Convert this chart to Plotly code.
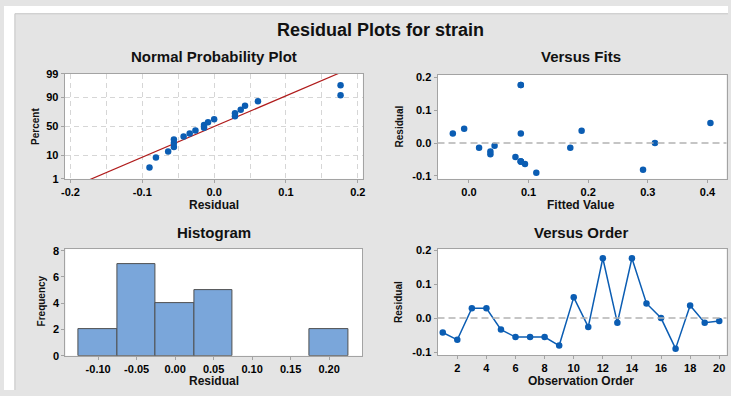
import plotly.graph_objects as go
from statistics import NormalDist, mean, stdev

# ---------------- data ----------------
observation = list(range(1, 21))
fitted = [0.078, 0.094, -0.027, 0.087, 0.036, 0.087, 0.087, 0.087, 0.292, 0.405,
          0.036, 0.087, 0.017, 0.087, -0.008, 0.312, 0.113, 0.189, 0.170, 0.043]
residual = [-0.0425, -0.064, 0.029, 0.029, -0.034, -0.056, -0.056, -0.056, -0.081, 0.061,
            -0.026, 0.176, -0.014, 0.176, 0.043, 0.000, -0.090, 0.037, -0.014, -0.0085]

pct_ticks = [1, 10, 50, 90, 99]
npp_x_ticks = [-0.2, -0.1, 0.0, 0.1, 0.2]
npp_x_text = ["-0.2", "-0.1", "0.0", "0.1", "0.2"]
res_ticks = [-0.1, 0.0, 0.1, 0.2]
res_text = ["-0.1", "0.0", "0.1", "0.2"]
fit_ticks = [0.0, 0.1, 0.2, 0.3, 0.4]
fit_text = ["0.0", "0.1", "0.2", "0.3", "0.4"]
hist_ticks = [-0.10, -0.05, 0.00, 0.05, 0.10, 0.15, 0.20]
hist_text = ["-0.10", "-0.05", "0.00", "0.05", "0.10", "0.15", "0.20"]
freq_ticks = [0, 2, 4, 6, 8]
order_ticks = list(range(2, 21, 2))

# ---------------- derived ----------------
nd = NormalDist()
n = len(residual)
sorted_res = sorted(residual)
z_pts = [nd.inv_cdf((i + 1 - 0.3) / (n + 0.4)) for i in range(n)]
z_ticks = [nd.inv_cdf(p / 100) for p in pct_ticks]
mu, sd = mean(residual), stdev(residual)
z_line = [-2.6, 2.6]
x_line = [mu + sd * z for z in z_line]

W, H = 731, 396
FONT = "Liberation Sans, Arial, sans-serif"
BLUE = "#0b5db3"
AX = "#a3a3a3"
PANEL = "#e4e4e4"
MSIZE = 6.5


def dx(a, b):
    return [a / W, b / W]


def dy(top, bottom):
    return [1 - bottom / H, 1 - top / H]


def axis(**kw):
    base = dict(showline=True, linecolor=AX, linewidth=1, mirror=True,
                ticks="outside", ticklen=3, tickcolor=AX, zeroline=False,
                showgrid=False, tickmode="array",
                tickfont=dict(family=FONT, size=11, color="black", weight="bold"))
    base.update(kw)
    return base


fig = go.Figure()

# Normal probability plot
fig.add_trace(go.Scatter(x=x_line, y=z_line, mode="lines",
                         line=dict(color="#b01c1c", width=1.2),
                         xaxis="x", yaxis="y", hoverinfo="skip"))
fig.add_trace(go.Scatter(x=sorted_res, y=z_pts, mode="markers",
                         marker=dict(color=BLUE, size=MSIZE), xaxis="x", yaxis="y"))

# Versus fits
fig.add_trace(go.Scatter(x=fitted, y=residual, mode="markers",
                         marker=dict(color=BLUE, size=MSIZE), xaxis="x2", yaxis="y2"))

# Histogram
fig.add_trace(go.Histogram(x=residual, xbins=dict(start=-0.125, end=0.225, size=0.05),
                           marker=dict(color="#7aa6da", line=dict(color="#505050", width=1)),
                           xaxis="x3", yaxis="y3"))

# Versus order
fig.add_trace(go.Scatter(x=observation, y=residual, mode="lines+markers",
                         line=dict(color=BLUE, width=1.5),
                         marker=dict(color=BLUE, size=MSIZE), xaxis="x4", yaxis="y4"))

grid = dict(showgrid=True, gridcolor="#d6d6d6", gridwidth=1, griddash="5px,4px")

fig.update_layout(
    width=W, height=H, margin=dict(l=0, r=0, t=0, b=0),
    paper_bgcolor=PANEL, plot_bgcolor="white", showlegend=False,
    bargap=0,
    xaxis=axis(domain=dx(61.3, 362.3), range=[-0.208, 0.207], anchor="y",
               tickvals=npp_x_ticks, ticktext=npp_x_text,
               minor=dict(tickmode="array", tickvals=[-0.15, -0.05, 0.05, 0.15], ticks="", **grid),
               **grid),
    yaxis=axis(domain=dy(70, 178.3), range=[z_ticks[0], z_ticks[-1]], anchor="x",
               tickvals=z_ticks, ticktext=[str(p) for p in pct_ticks], **grid),
    xaxis2=axis(domain=dx(437.7, 729.5), range=[-0.0527, 0.432], anchor="y2",
                tickvals=fit_ticks, ticktext=fit_text),
    yaxis2=axis(domain=dy(70.7, 178.3), range=[-0.109, 0.208], anchor="x2",
                tickvals=res_ticks, ticktext=res_text),
    xaxis3=axis(domain=dx(62, 361.7), range=[-0.1425, 0.243], anchor="y3",
                tickvals=hist_ticks, ticktext=hist_text),
    yaxis3=axis(domain=dy(250.7, 360.7), range=[0, 8.12], anchor="x3",
                tickvals=freq_ticks, ticktext=[str(v) for v in freq_ticks]),
    xaxis4=axis(domain=dx(437.7, 729.5), range=[0.64, 20.5], anchor="y4",
                tickvals=order_ticks, ticktext=[str(v) for v in order_ticks]),
    yaxis4=axis(domain=dy(250.7, 360), range=[-0.109, 0.203], anchor="x4",
                tickvals=res_ticks, ticktext=res_text),
)

# white surround outside the grey panel + panel border
fig.add_shape(type="rect", xref="paper", yref="paper", x0=0, x1=1, y0=1 - 8 / H, y1=1,
              fillcolor="white", line=dict(width=0), layer="below")
fig.add_shape(type="rect", xref="paper", yref="paper", x0=0, x1=11 / W, y0=0, y1=1,
              fillcolor="white", line=dict(width=0), layer="below")
fig.add_shape(type="line", xref="paper", yref="paper", x0=11 / W, x1=1, y0=1 - 8 / H, y1=1 - 8 / H,
              line=dict(color="#c4c4c4", width=1), layer="below")
fig.add_shape(type="line", xref="paper", yref="paper", x0=11 / W, x1=11 / W, y0=0, y1=1 - 8 / H,
              line=dict(color="#c4c4c4", width=1), layer="below")

# zero reference lines
for xr, yr in (("x2", "y2"), ("x4", "y4")):
    fig.add_shape(type="line", xref=f"{xr} domain", yref=yr, x0=0, x1=1, y0=0, y1=0,
                  line=dict(color="#b3b3b3", width=1.5, dash="7px,4px"))


def label(text, x, y, size, angle=0):
    fig.add_annotation(text=f"<b>{text}</b>", x=x / W, y=1 - y / H, xref="paper", yref="paper",
                       showarrow=False, xanchor="center", yanchor="middle", textangle=angle,
                       font=dict(family=FONT, size=size, color="#111111"))


label("Residual Plots for strain", 380, 25, 18)
label("Normal Probability Plot", 212, 52, 15)
label("Versus Fits", 583, 52, 15)
label("Histogram", 212, 234, 15)
label("Versus Order", 583, 234, 15)
label("Residual", 212, 205, 12)
label("Fitted Value", 583, 205, 12)
label("Residual", 212, 387, 12)
label("Observation Order", 583, 387, 12)
label("Percent", 32, 124, 10, -90)
label("Residual", 399, 124, 10, -90)
label("Frequency", 38, 304, 10, -90)
label("Residual", 399, 305, 10, -90)

fig.write_html(
    "out.html",
    config={"displayModeBar": False},
    post_script=("document.body.style.margin='0';document.body.style.overflow='hidden';"
                 "document.documentElement.style.overflow='hidden';"
                 "document.body.style.background='" + PANEL + "';"),
)
